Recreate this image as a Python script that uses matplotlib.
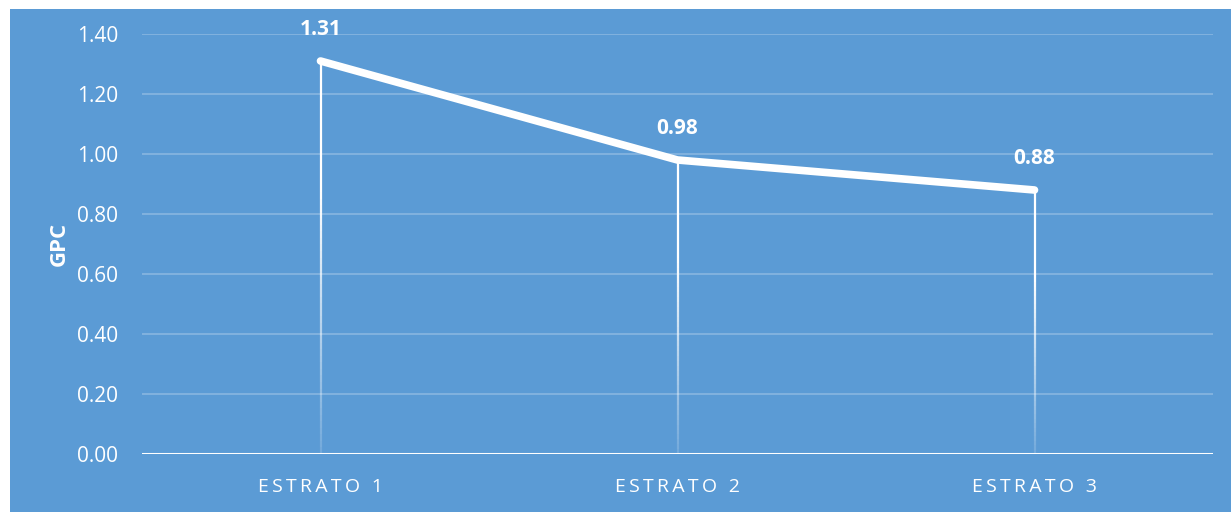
import matplotlib
matplotlib.use("Agg")
import matplotlib.pyplot as plt
from matplotlib.patches import Rectangle
import numpy as np

categories = ["ESTRATO 1", "ESTRATO 2", "ESTRATO 3"]
gpc = [1.31, 0.98, 0.88]
yticks = [0.0, 0.2, 0.4, 0.6, 0.8, 1.0, 1.2, 1.4]

BLUE = "#5B9BD5"
W, H = 1231, 512
plt.rcParams["font.family"] = ["Open Sans", "DejaVu Sans"]

fig = plt.figure(figsize=(W / 100, H / 100), dpi=100, facecolor="white")
# chart panel
fig.patches.append(Rectangle((10 / W, 0), 1 - 10 / W, 1 - 9 / H,
                             transform=fig.transFigure, facecolor=BLUE,
                             edgecolor="none", zorder=-10))

ax = fig.add_axes([142 / W, (H - 454) / H, (1213 - 142) / W, (454 - 34) / H])
ax.set_facecolor("none")
x = np.arange(len(categories))
ax.set_xlim(-0.5, len(categories) - 0.5)
ax.set_ylim(0, 1.4)

for s in ax.spines.values():
    s.set_visible(False)
ax.set_yticks(yticks)
ax.set_yticklabels([f"{v:.2f}" for v in yticks], color="white", fontsize=15)
ax.yaxis.grid(True, color="white", alpha=0.25, lw=1.3)
ax.set_axisbelow(True)
ax.tick_params(axis="both", length=0)
ax.tick_params(axis="y", pad=17)
ax.axhline(0, color="white", lw=2.2, zorder=3)

spaced = ["\u2009".join(c) for c in categories]
ax.set_xticks(x)
ax.set_xticklabels(spaced, color="white", fontsize=14)
ax.tick_params(axis="x", pad=17)

ax.set_ylabel("GPC", color="white", fontsize=16, fontweight="bold", labelpad=5)

# drop lines fading toward the baseline
n = 60
for xi, v in zip(x, gpc):
    ys = np.linspace(0, v, n + 1)
    for k in range(n):
        a = min(1.0, 0.15 + 1.3 * (k / n))
        ax.plot([xi, xi], [ys[k], ys[k + 1]], color="white", lw=1.6,
                alpha=a, solid_capstyle="butt", zorder=2)

ax.plot(x, gpc, color="white", lw=5.5, solid_capstyle="round",
        solid_joinstyle="round", zorder=4)

for xi, v in zip(x, gpc):
    ax.annotate(f"{v:.2f}", (xi, v), xytext=(0, 23), textcoords="offset points",
                ha="center", va="center", color="white", fontsize=15,
                fontweight="bold", zorder=5)

fig.savefig("out.png", dpi=100, facecolor="white")
